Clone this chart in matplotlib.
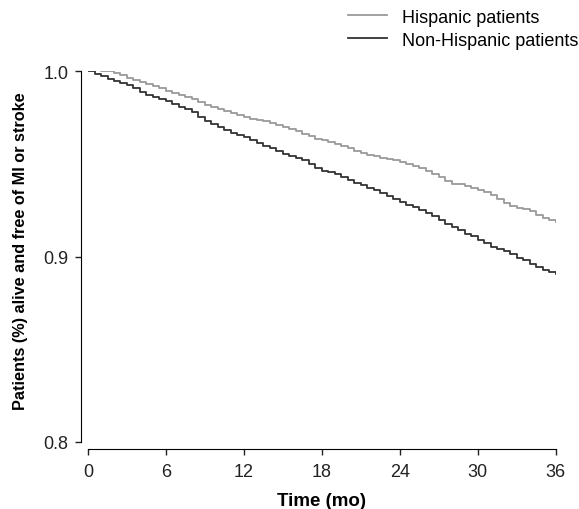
import numpy as np
from matplotlib import pyplot as plt

plt.rcParams['font.family'] = ['Liberation Sans', 'DejaVu Sans']

# survival estimates every half month
months = [i / 2 for i in range(73)]
hispanic = [1.0015, 1.001, 1.0005, 1.000, 0.999, 0.998, 0.9965, 0.9955, 0.9945, 0.993,
            0.992, 0.991, 0.9895, 0.9885, 0.9875, 0.986, 0.985, 0.9835, 0.982, 0.981,
            0.980, 0.9785, 0.9775, 0.9765, 0.9755, 0.9745, 0.974, 0.973, 0.972, 0.971,
            0.970, 0.969, 0.968, 0.9665, 0.965, 0.9638, 0.963, 0.962, 0.961, 0.9598,
            0.9585, 0.9572, 0.956, 0.955, 0.9545, 0.9535, 0.9528, 0.952, 0.951, 0.950,
            0.949, 0.948, 0.9465, 0.9448, 0.943, 0.941, 0.9395, 0.939, 0.938, 0.937,
            0.936, 0.935, 0.9335, 0.931, 0.929, 0.9275, 0.9265, 0.926, 0.9248, 0.9225,
            0.921, 0.920, 0.9185]
non_hispanic = [1.000, 0.9985, 0.9975, 0.9962, 0.995, 0.994, 0.9925, 0.991, 0.989, 0.9875,
                0.9862, 0.985, 0.984, 0.9825, 0.981, 0.9797, 0.978, 0.9755, 0.973, 0.9718,
                0.970, 0.9685, 0.967, 0.9658, 0.9645, 0.963, 0.9615, 0.960, 0.9585, 0.957,
                0.9555, 0.9545, 0.9535, 0.952, 0.950, 0.948, 0.9465, 0.9455, 0.9446, 0.943,
                0.9415, 0.940, 0.9385, 0.937, 0.936, 0.9345, 0.933, 0.9313, 0.9298, 0.928,
                0.9268, 0.925, 0.9235, 0.922, 0.920, 0.9178, 0.916, 0.9145, 0.9125, 0.911,
                0.909, 0.9072, 0.9055, 0.904, 0.903, 0.9014, 0.8995, 0.898, 0.896, 0.8945,
                0.893, 0.8915, 0.8905]

x_ticks = [0, 6, 12, 18, 24, 30, 36]
y_ticks = [0.8, 0.9, 1.0]

fig = plt.figure(figsize=(5.79, 5.10), dpi=100)
ax = fig.add_axes([0.152, 0.1314, 0.808, 0.7265])

ax.step(months, hispanic, where='post', color='#9a9a9a', lw=1.3, label='Hispanic patients')
ax.step(months, non_hispanic, where='post', color='#333333', lw=1.3, label='Non-Hispanic patients')

ax.set_xlim(0, 36)
ax.set_ylim(0.8, 1.0)
ax.set_xticks(x_ticks)
ax.set_yticks(y_ticks)
ax.set_yticklabels(['0.8', '0.9', '1.0'])
ax.tick_params(labelsize=13, length=4, width=1, colors='#222222')
ax.tick_params(axis='x', pad=6)
ax.tick_params(axis='y', pad=5)

for side in ['top', 'right']:
    ax.spines[side].set_visible(False)
ax.spines['left'].set_position(('outward', 5))
ax.spines['bottom'].set_position(('outward', 5))
ax.spines['left'].set_bounds(0.8, 1.0)
ax.spines['bottom'].set_bounds(0, 36)

ax.set_xlabel('Time (mo)', fontsize=13.5, fontweight='bold')
ax.xaxis.set_label_coords(0.5, -0.135)
ax.set_ylabel('Patients (%) alive and free of MI or stroke', fontsize=11.7,
              fontweight='bold')
ax.yaxis.set_label_coords(-0.129, 0.518)

fig.legend(loc='upper right', bbox_to_anchor=(1.011, 0.995), frameon=False, fontsize=13,
           handlelength=2.15, handletextpad=0.83, labelspacing=0.33, borderaxespad=0.0)

fig.savefig('out.png', dpi=100)
